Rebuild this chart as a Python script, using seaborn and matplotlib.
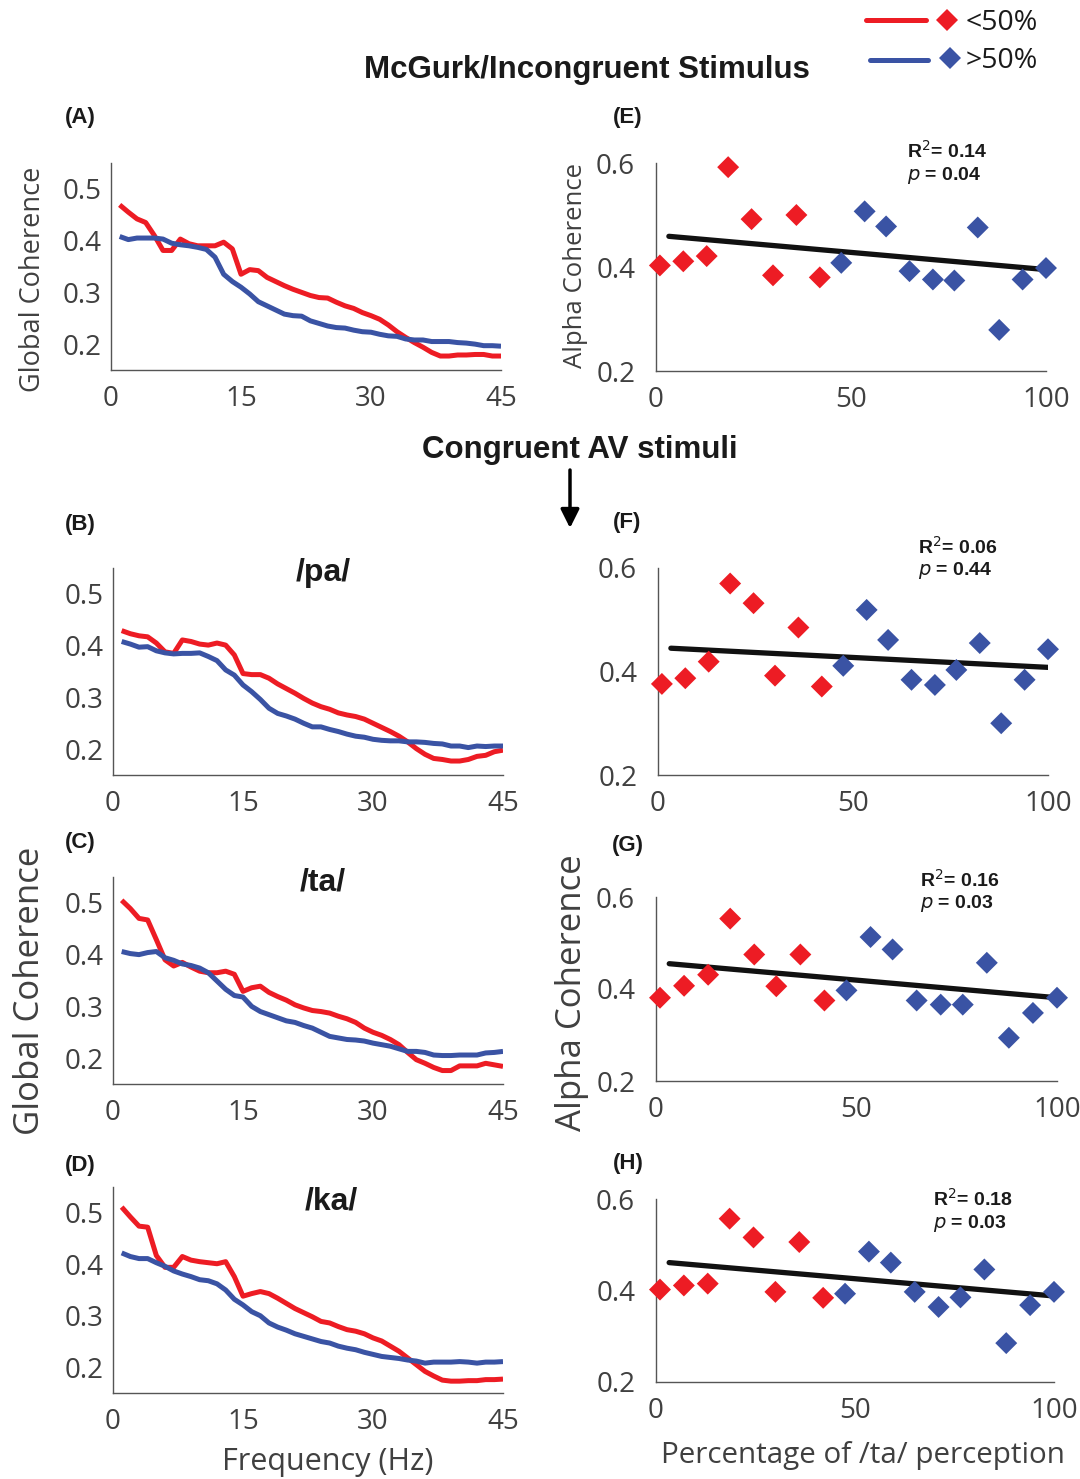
import numpy as np
import pandas as pd
import seaborn as sns
import matplotlib
matplotlib.use("Agg")
import matplotlib.pyplot as plt
from matplotlib.lines import Line2D

# ---------------- data ----------------
freq = list(range(1, 46))

A_low = [0.469, 0.455, 0.442, 0.435, 0.410, 0.381, 0.381, 0.403, 0.394, 0.390, 0.390, 0.390, 0.397, 0.384, 0.335,
         0.344, 0.342, 0.329, 0.321, 0.313, 0.306, 0.300, 0.294, 0.290, 0.289, 0.281, 0.274, 0.269, 0.261, 0.255,
         0.248, 0.237, 0.224, 0.213, 0.203, 0.194, 0.184, 0.177, 0.177, 0.179, 0.179, 0.180, 0.180, 0.177, 0.177]
A_high = [0.408, 0.402, 0.405, 0.405, 0.405, 0.403, 0.395, 0.392, 0.390, 0.387, 0.383, 0.368, 0.335, 0.321, 0.310,
          0.297, 0.282, 0.274, 0.266, 0.258, 0.255, 0.254, 0.245, 0.240, 0.235, 0.232, 0.231, 0.227, 0.224, 0.223,
          0.219, 0.216, 0.215, 0.210, 0.208, 0.208, 0.205, 0.205, 0.205, 0.203, 0.202, 0.200, 0.197, 0.197, 0.196]

B_low = [0.429, 0.423, 0.419, 0.417, 0.405, 0.388, 0.385, 0.411, 0.408, 0.403, 0.401, 0.405, 0.401, 0.382, 0.346,
         0.344, 0.344, 0.337, 0.326, 0.317, 0.308, 0.298, 0.289, 0.282, 0.277, 0.270, 0.266, 0.263, 0.258, 0.250,
         0.242, 0.234, 0.225, 0.214, 0.201, 0.190, 0.182, 0.180, 0.177, 0.177, 0.180, 0.186, 0.188, 0.195, 0.198]
B_high = [0.408, 0.403, 0.397, 0.398, 0.390, 0.386, 0.384, 0.385, 0.385, 0.386, 0.379, 0.371, 0.353, 0.343, 0.324,
          0.311, 0.296, 0.279, 0.269, 0.264, 0.258, 0.250, 0.243, 0.243, 0.238, 0.234, 0.229, 0.225, 0.223, 0.219,
          0.217, 0.216, 0.216, 0.214, 0.214, 0.213, 0.211, 0.210, 0.206, 0.206, 0.203, 0.206, 0.205, 0.206, 0.206]

C_low = [0.505, 0.489, 0.470, 0.467, 0.429, 0.390, 0.378, 0.385, 0.376, 0.368, 0.365, 0.365, 0.368, 0.362, 0.329,
         0.336, 0.339, 0.327, 0.319, 0.312, 0.303, 0.297, 0.292, 0.290, 0.287, 0.281, 0.276, 0.269, 0.258, 0.250,
         0.244, 0.236, 0.226, 0.211, 0.197, 0.190, 0.182, 0.176, 0.176, 0.185, 0.185, 0.185, 0.190, 0.187, 0.184]
C_high = [0.406, 0.402, 0.400, 0.404, 0.406, 0.394, 0.389, 0.382, 0.379, 0.374, 0.365, 0.349, 0.333, 0.321, 0.318,
          0.300, 0.290, 0.284, 0.278, 0.272, 0.269, 0.263, 0.258, 0.250, 0.242, 0.239, 0.236, 0.235, 0.233, 0.229,
          0.226, 0.223, 0.218, 0.213, 0.213, 0.211, 0.206, 0.205, 0.205, 0.206, 0.206, 0.206, 0.210, 0.211, 0.213]

D_low = [0.511, 0.492, 0.474, 0.472, 0.417, 0.394, 0.394, 0.415, 0.408, 0.405, 0.403, 0.401, 0.405, 0.376, 0.338,
         0.343, 0.347, 0.343, 0.334, 0.324, 0.314, 0.306, 0.298, 0.289, 0.286, 0.279, 0.273, 0.270, 0.265, 0.257,
         0.251, 0.241, 0.231, 0.218, 0.205, 0.192, 0.183, 0.175, 0.173, 0.173, 0.174, 0.174, 0.176, 0.176, 0.177]
D_high = [0.422, 0.415, 0.411, 0.411, 0.403, 0.396, 0.387, 0.381, 0.376, 0.370, 0.368, 0.362, 0.350, 0.332, 0.321,
          0.308, 0.300, 0.286, 0.278, 0.272, 0.265, 0.260, 0.255, 0.250, 0.247, 0.241, 0.237, 0.234, 0.229, 0.225,
          0.221, 0.219, 0.217, 0.214, 0.212, 0.208, 0.210, 0.210, 0.210, 0.211, 0.210, 0.208, 0.210, 0.210, 0.211]

pct = [1, 7, 13, 18.5, 24.5, 30, 36, 42, 47.5, 53.5, 59, 65, 71, 76.5, 82.5, 88, 94, 100]
group = ["<50%"] * 8 + [">50%"] * 10

E_alpha = [0.403, 0.411, 0.421, 0.592, 0.492, 0.384, 0.500, 0.380, 0.408, 0.507, 0.478, 0.392, 0.376, 0.374,
           0.476, 0.279, 0.376, 0.398]
F_alpha = [0.376, 0.387, 0.419, 0.570, 0.532, 0.392, 0.485, 0.371, 0.411, 0.519, 0.461, 0.384, 0.374, 0.403,
           0.455, 0.300, 0.384, 0.443]
G_alpha = [0.381, 0.407, 0.431, 0.553, 0.475, 0.406, 0.475, 0.375, 0.397, 0.513, 0.486, 0.375, 0.366, 0.366,
           0.457, 0.294, 0.348, 0.381]
H_alpha = [0.402, 0.411, 0.415, 0.557, 0.516, 0.397, 0.506, 0.384, 0.393, 0.485, 0.461, 0.397, 0.364, 0.385,
           0.446, 0.285, 0.368, 0.397]

fit_x = [3.3, 100]
E_fit = [0.459, 0.395]
F_fit = [0.445, 0.408]
G_fit = [0.455, 0.381]
H_fit = [0.461, 0.388]

stats_text = {"E": ("0.14", "0.04"), "F": ("0.06", "0.44"), "G": ("0.16", "0.03"), "H": ("0.18", "0.03")}
syllables = ["/pa/", "/ta/", "/ka/"]

# ---------------- style ----------------
sns.set_theme(style="white")
plt.rcParams["font.family"] = ["Open Sans", "DejaVu Sans"]
RED = "#ED1C24"
BLUE = "#3A53A4"
GRAY = "#404040"
SPINE = "#555555"
DARK = "#1a1a1a"
palette = {"<50%": RED, ">50%": BLUE}

W, H = 1080, 1479
fig = plt.figure(figsize=(W / 100, H / 100), dpi=100)


def px_axes(l, r, t, b):
    return fig.add_axes([l / W, 1 - b / H, (r - l) / W, (b - t) / H])


def fx(x):
    return x / W


def fy(y):
    return 1 - y / H


def style_axes(ax, xticks, yticks, xpad, ypad):
    for s in ["top", "right"]:
        ax.spines[s].set_visible(False)
    for s in ["left", "bottom"]:
        ax.spines[s].set_color(SPINE)
        ax.spines[s].set_linewidth(1.0)
    ax.set_xticks(xticks)
    ax.set_yticks(yticks)
    ax.tick_params(axis="both", direction="in", length=4, width=1, color=SPINE,
                   labelsize=20, labelcolor=GRAY)
    ax.tick_params(axis="x", pad=xpad)
    ax.tick_params(axis="y", pad=ypad)
    ax.set_xlabel("")
    ax.set_ylabel("")
    leg = ax.get_legend()
    if leg is not None:
        leg.remove()


def line_panel(ax, low, high):
    df = pd.DataFrame({
        "freq": freq + freq,
        "coh": low + high,
        "grp": ["<50%"] * len(freq) + [">50%"] * len(freq),
    })
    sns.lineplot(data=df, x="freq", y="coh", hue="grp", palette=palette, lw=3.6,
                 ax=ax, legend=False, solid_capstyle="butt")
    ax.set_xlim(0, 45)
    ax.set_ylim(0.15, 0.55)
    style_axes(ax, [0, 15, 30, 45], [0.2, 0.3, 0.4, 0.5], 11, 7)
    ax.set_yticklabels(["0.2", "0.3", "0.4", "0.5"])


def scatter_panel(ax, alpha, fit):
    df = pd.DataFrame({"pct": pct, "alpha": alpha, "grp": group})
    sns.lineplot(x=fit_x, y=fit, color="#111111", lw=3.8, ax=ax, legend=False)
    sns.scatterplot(data=df, x="pct", y="alpha", hue="grp", palette=palette, marker="D",
                    s=125, linewidth=0, ax=ax, legend=False, clip_on=False, zorder=3)
    ax.set_xlim(0, 100)
    ax.set_ylim(0.2, 0.6)
    style_axes(ax, [0, 50, 100], [0.2, 0.4, 0.6], 11, 15)
    ax.set_yticklabels(["0.2", "0.4", "0.6"])


axA = px_axes(111, 501, 163, 370)
axB = px_axes(113, 503, 568, 775)
axC = px_axes(113, 503, 877, 1084)
axD = px_axes(113, 503, 1187, 1393)
axE = px_axes(656, 1046, 163, 371)
axF = px_axes(658, 1048, 568, 775)
axG = px_axes(656, 1057, 897, 1081)
axH = px_axes(656, 1054, 1199, 1382)

line_panel(axA, A_low, A_high)
line_panel(axB, B_low, B_high)
line_panel(axC, C_low, C_high)
line_panel(axD, D_low, D_high)
scatter_panel(axE, E_alpha, E_fit)
scatter_panel(axF, F_alpha, F_fit)
scatter_panel(axG, G_alpha, G_fit)
scatter_panel(axH, H_alpha, H_fit)

BOLD = ["Liberation Sans", "DejaVu Sans"]

# syllable titles
for name, x, y in zip(syllables, [323, 323, 331], [573, 883, 1202]):
    fig.text(fx(x), fy(y), name, ha="center", va="center", fontsize=23, fontweight="bold",
             family=BOLD, color=DARK)

# panel letters
letters = [("(A)", 80, 118), ("(E)", 628, 118), ("(B)", 80, 524), ("(F)", 627, 523),
           ("(C)", 80, 843), ("(G)", 628, 846), ("(D)", 80, 1166), ("(H)", 628, 1164)]
for t, x, y in letters:
    fig.text(fx(x), fy(y), t, ha="center", va="center", fontsize=16, fontweight="bold",
             family=BOLD, color=DARK)

# stats
stat_pos = {"E": (907, 151), "F": (918, 547), "G": (920, 880), "H": (933, 1199)}
for k, (x, y) in stat_pos.items():
    r2, p = stats_text[k]
    fig.text(fx(x), fy(y), "R$^{2}$= " + r2, ha="left", va="center", fontsize=14,
             fontweight="bold", family=BOLD, color=DARK)
    fig.text(fx(x), fy(y + 24), r"$\bf{\it{p}}$ = " + p, ha="left", va="center", fontsize=14,
             fontweight="bold", family=BOLD, color=DARK)

# section titles
fig.text(fx(587), fy(70), "McGurk/Incongruent Stimulus", ha="center", va="center", fontsize=22.5,
         fontweight="bold", family=BOLD, color=DARK)
fig.text(fx(580), fy(450), "Congruent AV stimuli", ha="center", va="center", fontsize=22.5,
         fontweight="bold", family=BOLD, color=DARK)
fig.add_artist(plt.Annotation("", xy=(fx(570), fy(528)), xytext=(fx(570), fy(470)),
                              xycoords="figure fraction", textcoords="figure fraction",
                              arrowprops=dict(arrowstyle="-|>", lw=2.5, color="black",
                                              mutation_scale=28, shrinkA=0, shrinkB=0)))

# axis labels
fig.text(fx(33), fy(279), "Global Coherence", rotation=90, ha="center", va="center",
         fontsize=19.5, color=GRAY)
fig.text(fx(30), fy(991), "Global Coherence", rotation=90, ha="center", va="center",
         fontsize=25, color=GRAY)
fig.text(fx(576), fy(266), "Alpha Coherence", rotation=90, ha="center", va="center",
         fontsize=18.5, color=GRAY)
fig.text(fx(572), fy(993), "Alpha Coherence", rotation=90, ha="center", va="center",
         fontsize=25, color=GRAY)
fig.text(fx(328), fy(1462), "Frequency (Hz)", ha="center", va="center", fontsize=22, color=GRAY)
fig.text(fx(863), fy(1456), "Percentage of /ta/ perception", ha="center", va="center",
         fontsize=21.3, color=GRAY)

# legend
fig.add_artist(Line2D([fx(866), fx(926)], [fy(20), fy(20)], color=RED, lw=3.6))
fig.add_artist(Line2D([fx(947)], [fy(20)], color=RED, marker="D", markersize=11, lw=0, markeredgewidth=0))
fig.add_artist(Line2D([fx(870), fx(928)], [fy(60), fy(60)], color=BLUE, lw=3.6))
fig.add_artist(Line2D([fx(950)], [fy(58)], color=BLUE, marker="D", markersize=11, lw=0, markeredgewidth=0))
fig.text(fx(966), fy(23), "<50%", ha="left", va="center", fontsize=20.5, color=DARK)
fig.text(fx(966), fy(61), ">50%", ha="left", va="center", fontsize=20.5, color=DARK)

fig.savefig("out.png", dpi=100)
